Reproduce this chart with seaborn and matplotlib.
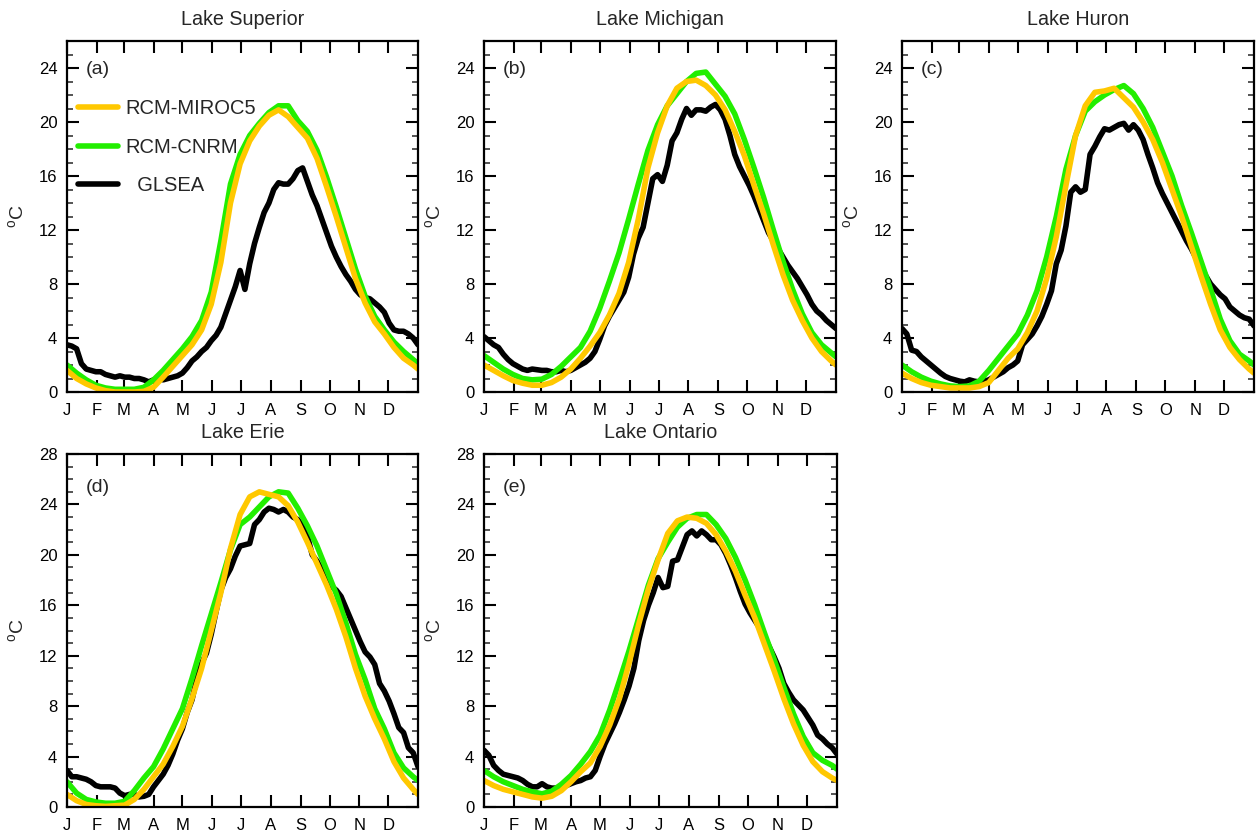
import matplotlib
matplotlib.use("Agg")
import matplotlib.pyplot as plt
from matplotlib.ticker import MultipleLocator, NullLocator
import seaborn as sns

# ---------------- data ----------------
days10 = [0, 10, 20, 30, 40, 50, 60, 70, 80, 90, 100, 110, 120, 130, 140, 150, 160, 170, 180,
          190, 200, 210, 220, 230, 240, 250, 260, 270, 280, 290, 300, 310, 320, 330, 340, 350, 360, 365]
days5 = list(range(0, 366, 5))
month_starts = [0, 31, 59, 90, 120, 151, 181, 212, 243, 273, 304, 334]
month_labels = ["J", "F", "M", "A", "M", "J", "J", "A", "S", "O", "N", "D"]

lake_names = ["Lake Superior", "Lake Michigan", "Lake Huron", "Lake Erie", "Lake Ontario"]
panel_tags = ["(a)", "(b)", "(c)", "(d)", "(e)"]
series_labels = ["RCM-MIROC5", "RCM-CNRM", "  GLSEA"]

sup_miroc = [1.6, 1.0, 0.6, 0.3, 0.1, 0.0, 0.0, 0.0, 0.05, 0.35, 1.1, 1.9, 2.7, 3.5, 4.6, 6.5, 9.6, 14.0, 16.9,
             18.6, 19.7, 20.5, 20.9, 20.4, 19.6, 18.8, 17.3, 15.2, 13.0, 10.7, 8.4, 6.6, 5.2, 4.3, 3.3, 2.5, 2.0, 1.7]
sup_cnrm = [2.0, 1.4, 0.9, 0.5, 0.3, 0.2, 0.2, 0.2, 0.35, 0.9, 1.6, 2.4, 3.2, 4.1, 5.3, 7.4, 11.2, 15.4, 17.6,
            19.0, 19.9, 20.7, 21.2, 21.2, 20.1, 19.3, 17.9, 15.9, 13.7, 11.4, 9.1, 7.1, 5.6, 4.6, 3.7, 3.0, 2.4, 2.1]
sup_glsea = [3.5, 3.4, 3.2, 2.1, 1.7, 1.6, 1.5, 1.5, 1.3, 1.2,
             1.1, 1.2, 1.1, 1.1, 1.0, 1.0, 0.9, 0.75, 0.9, 1.0,
             0.9, 1.0, 1.1, 1.2, 1.4, 1.8, 2.3, 2.6, 3.0, 3.3,
             3.8, 4.2, 4.8, 5.8, 6.8, 7.8, 9.0, 7.6, 9.5, 11.0,
             12.2, 13.3, 14.0, 15.0, 15.5, 15.4, 15.4, 15.8, 16.4, 16.6,
             15.6, 14.6, 13.8, 12.8, 11.8, 10.8, 10.0, 9.3, 8.7, 8.2,
             7.6, 7.2, 7.0, 6.9, 6.6, 6.3, 5.9, 5.1, 4.6, 4.5,
             4.5, 4.3, 4.0, 3.5]

mich_miroc = [2.0, 1.6, 1.2, 0.85, 0.65, 0.5, 0.5, 0.7, 1.1, 1.7, 2.5, 3.4, 4.4, 5.7, 7.3, 9.6, 12.8, 16.6, 19.2,
              21.2, 22.5, 23.0, 23.1, 22.7, 22.0, 20.9, 19.3, 17.5, 15.3, 13.2, 10.9, 8.7, 6.8, 5.3, 4.0, 3.0, 2.3, 2.0]
mich_cnrm = [2.7, 2.2, 1.7, 1.3, 1.0, 0.9, 0.95, 1.3, 1.9, 2.6, 3.3, 4.5, 6.2, 8.2, 10.3, 12.8, 15.4, 17.9, 19.8,
             21.2, 22.1, 23.0, 23.6, 23.7, 22.8, 21.9, 20.6, 18.7, 16.6, 14.4, 12.0, 9.7, 7.6, 5.8, 4.4, 3.5, 2.9, 2.6]
mich_glsea = [4.1, 3.8, 3.5, 3.3, 2.8, 2.4, 2.1, 1.9, 1.7, 1.6,
              1.7, 1.65, 1.6, 1.6, 1.5, 1.5, 1.6, 1.5, 1.6, 1.8,
              2.0, 2.2, 2.5, 3.0, 3.9, 4.9, 5.6, 6.2, 6.8, 7.4,
              8.5, 10.2, 11.4, 12.2, 14.0, 15.8, 16.1, 15.6, 16.8, 18.6,
              19.2, 20.2, 21.0, 20.5, 20.9, 20.9, 20.8, 21.1, 21.3, 20.9,
              20.2, 19.0, 17.6, 16.7, 16.0, 15.3, 14.5, 13.6, 12.7, 11.8,
              11.2, 10.6, 10.0, 9.4, 8.9, 8.4, 7.8, 7.2, 6.5, 6.0,
              5.7, 5.3, 5.0, 4.7]

hur_miroc = [1.4, 1.0, 0.7, 0.5, 0.4, 0.3, 0.3, 0.3, 0.4, 0.7, 1.6, 2.5, 3.2, 4.4, 6.0, 8.4, 11.5, 15.3, 19.0,
             21.2, 22.2, 22.3, 22.5, 21.8, 21.1, 20.0, 18.7, 17.0, 15.0, 13.0, 10.8, 8.6, 6.5, 4.6, 3.3, 2.4, 1.7, 1.4]
hur_cnrm = [2.0, 1.5, 1.1, 0.8, 0.6, 0.45, 0.4, 0.45, 0.8, 1.6, 2.5, 3.4, 4.3, 5.7, 7.5, 10.0, 13.0, 16.5, 19.0,
            20.8, 21.5, 22.0, 22.4, 22.7, 22.1, 21.0, 19.6, 17.8, 16.0, 13.8, 11.8, 9.7, 7.6, 5.4, 3.8, 2.8, 2.3, 2.0]
hur_glsea = [4.7, 4.3, 3.1, 3.0, 2.6, 2.3, 2.0, 1.7, 1.4, 1.15,
             1.0, 0.9, 0.8, 0.75, 0.9, 0.8, 0.75, 0.8, 0.9, 1.1,
             1.3, 1.5, 1.8, 2.0, 2.3, 3.5, 3.9, 4.3, 4.9, 5.6,
             6.5, 7.5, 9.5, 10.5, 12.3, 14.8, 15.2, 14.8, 15.0, 17.6,
             18.2, 18.9, 19.5, 19.4, 19.6, 19.8, 19.9, 19.4, 19.8, 19.4,
             18.7, 17.6, 16.6, 15.5, 14.7, 14.0, 13.3, 12.6, 11.9, 11.2,
             10.6, 9.9, 9.3, 8.6, 8.0, 7.6, 7.2, 6.9, 6.3, 6.0,
             5.7, 5.5, 5.4, 4.9]

erie_miroc = [1.0, 0.5, 0.2, 0.1, 0.05, 0.1, 0.15, 0.6, 1.4, 2.4, 3.4, 4.8, 6.4, 8.6, 11.0, 14.0, 17.0, 20.5, 23.2,
              24.6, 25.0, 24.8, 24.6, 23.9, 22.6, 21.0, 19.3, 17.6, 15.7, 13.5, 11.0, 8.8, 7.0, 5.4, 3.6, 2.3, 1.4, 1.0]
erie_cnrm = [2.0, 1.1, 0.6, 0.4, 0.3, 0.3, 0.45, 1.3, 2.3, 3.2, 4.6, 6.2, 7.8, 10.2, 12.8, 15.3, 17.8, 20.4, 22.4,
             23.0, 23.8, 24.6, 25.0, 24.9, 23.7, 22.3, 20.7, 18.8, 16.9, 14.6, 12.1, 10.1, 7.8, 6.2, 4.3, 3.1, 2.4, 2.1]
erie_glsea = [2.9, 2.4, 2.4, 2.3, 2.2, 2.0, 1.7, 1.6, 1.6, 1.6,
              1.5, 1.1, 0.9, 1.0, 1.0, 0.8, 0.85, 1.0, 1.6, 2.1,
              2.6, 3.3, 4.2, 5.3, 6.2, 7.5, 8.5, 10.2, 11.4, 12.2,
              13.7, 15.5, 17.2, 18.2, 18.9, 19.9, 20.7, 20.8, 20.9, 22.4,
              22.8, 23.4, 23.7, 23.6, 23.4, 23.6, 23.4, 23.0, 22.8, 22.3,
              21.5, 20.0, 19.5, 18.8, 18.1, 17.5, 17.2, 16.7, 15.8, 14.9,
              14.0, 13.1, 12.3, 11.9, 11.3, 9.8, 9.2, 8.4, 7.4, 6.3,
              5.9, 4.7, 4.3, 3.2]

ont_miroc = [2.1, 1.7, 1.4, 1.2, 1.0, 0.8, 0.7, 0.85, 1.3, 2.0, 2.8, 3.5, 4.8, 6.5, 8.6, 11.4, 14.5, 17.3, 19.6,
             21.7, 22.7, 23.0, 22.9, 22.5, 21.6, 20.3, 18.7, 16.8, 15.0, 12.9, 10.8, 8.6, 6.6, 4.9, 3.6, 2.8, 2.3, 2.1]
ont_cnrm = [2.9, 2.4, 2.0, 1.7, 1.4, 1.2, 1.05, 1.25, 1.8, 2.5, 3.4, 4.4, 5.7, 7.7, 10.0, 12.4, 15.0, 17.6, 19.7,
            21.0, 22.2, 22.9, 23.2, 23.2, 22.4, 21.3, 19.8, 18.0, 16.0, 13.8, 11.7, 9.5, 7.4, 5.6, 4.3, 3.7, 3.3, 3.0]
ont_glsea = [4.5, 4.1, 3.3, 2.9, 2.6, 2.5, 2.4, 2.3, 2.1, 1.8,
             1.6, 1.6, 1.85, 1.6, 1.5, 1.5, 1.6, 1.7, 1.85, 2.0,
             2.1, 2.3, 2.4, 2.9, 4.0, 5.0, 5.8, 6.6, 7.5, 8.5,
             9.6, 11.0, 13.2, 14.8, 16.0, 17.0, 18.2, 17.4, 17.5, 19.5,
             19.6, 20.6, 21.6, 21.9, 21.5, 21.9, 21.6, 21.2, 21.2, 20.8,
             20.1, 19.2, 18.2, 17.1, 16.1, 15.4, 14.8, 14.2, 13.5, 12.7,
             11.9, 11.0, 9.8, 9.1, 8.5, 8.1, 7.7, 7.1, 6.5, 5.7,
             5.4, 5.0, 4.7, 4.2]

miroc_all = [sup_miroc, mich_miroc, hur_miroc, erie_miroc, ont_miroc]
cnrm_all = [sup_cnrm, mich_cnrm, hur_cnrm, erie_cnrm, ont_cnrm]
glsea_all = [sup_glsea, mich_glsea, hur_glsea, erie_glsea, ont_glsea]
ymax_all = [26, 26, 26, 28, 28]
ytick_top = [24, 24, 24, 28, 28]

# ---------------- style ----------------
sns.set_style("ticks")
plt.rcParams['font.family'] = ['Liberation Sans', 'DejaVu Sans']
plt.rcParams['mathtext.fontset'] = 'custom'
plt.rcParams['mathtext.rm'] = 'Liberation Sans'

C_MIROC = "#FFC800"
C_CNRM = "#22EE00"
C_OBS = "#000000"
LW = 4.0

W, H = 1256, 832
fig = plt.figure(figsize=(W / 100, H / 100), dpi=100)
boxes = [(67, 41, 418, 392), (484, 41, 836, 392), (902, 41, 1254, 392),
         (67, 454, 418, 807), (484, 454, 837, 807)]

for i in range(5):
    l, t, r, b = boxes[i]
    ax = fig.add_axes([l / W, 1 - b / H, (r - l) / W, (b - t) / H])
    sns.lineplot(x=days5, y=glsea_all[i], color=C_OBS, lw=LW, ax=ax,
                 solid_capstyle='round', solid_joinstyle='round')
    sns.lineplot(x=days10, y=cnrm_all[i], color=C_CNRM, lw=LW, ax=ax,
                 solid_capstyle='round', solid_joinstyle='round')
    sns.lineplot(x=days10, y=miroc_all[i], color=C_MIROC, lw=LW, ax=ax,
                 solid_capstyle='round', solid_joinstyle='round')
    ax.set_xlim(0, 365)
    ax.set_ylim(0, ymax_all[i])
    ax.set_xticks(month_starts)
    ax.set_xticklabels(month_labels)
    ax.set_yticks(list(range(0, ytick_top[i] + 1, 4)))
    ax.yaxis.set_minor_locator(MultipleLocator(1))
    ax.xaxis.set_minor_locator(NullLocator())
    ax.tick_params(axis='both', which='major', direction='in', length=8.5, width=1.5,
                   top=True, right=True, labelsize=12, colors='black')
    ax.tick_params(axis='x', which='major', pad=8)
    ax.tick_params(axis='y', which='major', pad=7)
    ax.tick_params(axis='y', which='minor', direction='in', length=4.3, width=1.1,
                   left=True, right=True)
    for s in ax.spines.values():
        s.set_linewidth(1.6)
        s.set_color('black')
    ax.set_xlabel("")
    ax.set_ylabel(r"$^{\mathrm{o}}$C", fontsize=14, labelpad=8)
    ax.set_title(lake_names[i], fontsize=14.2, pad=11.5)
    ax.text(0.052, 0.92 if i < 3 else 0.905, panel_tags[i], transform=ax.transAxes,
            fontsize=14, ha='left', va='center')
    if i == 0:
        lines = ax.get_lines()
        ax.legend([lines[2], lines[1], lines[0]], series_labels, loc='upper left',
                  bbox_to_anchor=(0.03, 0.835), frameon=False, fontsize=14.5,
                  handlelength=2.0, handletextpad=0.4, labelspacing=0.98,
                  borderpad=0, borderaxespad=0)

fig.savefig("out.png", dpi=100)
